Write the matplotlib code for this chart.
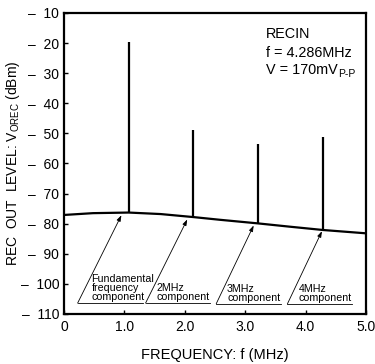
import matplotlib
matplotlib.use("Agg")
import matplotlib.pyplot as plt

plt.rcParams['font.family'] = ['Liberation Sans', 'DejaVu Sans']
plt.rcParams['mathtext.fontset'] = 'custom'
plt.rcParams['mathtext.rm'] = 'Liberation Sans'

# noise floor (MHz, dBm)
floor_f = [0.0, 0.48, 1.07, 1.6, 2.14, 2.58, 3.21, 3.74, 4.29, 5.0]
floor_v = [-77.1, -76.5, -76.3, -76.8, -77.8, -78.7, -79.9, -81.0, -82.1, -83.2]

# spectral lines: fundamental and harmonics
peak_f = [1.0715, 2.143, 3.214, 4.286]
peak_v = [-19.7, -48.9, -53.5, -51.1]
peak_base = [-76.3, -77.8, -79.9, -82.1]

# labels with arrow start, arrow tip and end of the underline
labels = ["Fundamental\nfrequency\ncomponent", "2MHz\ncomponent", "3MHz\ncomponent", "4MHz\ncomponent"]
label_start = [(0.225, -106.4), (1.35, -106.4), (2.52, -106.6), (3.70, -106.6)]
label_tip = [(0.95, -77.2), (2.04, -78.6), (3.14, -80.6), (4.27, -82.5)]
label_end = [1.31, 2.42, 3.60, 4.76]
label_dx = [0.23, 0.18, 0.18, 0.18]

yticks = list(range(-10, -111, -10))
ytick_labels = ["\u2013  %d" % abs(v) for v in yticks]
xticks = [0, 1, 2, 3, 4, 5]
xtick_labels = ["0", "1.0", "2.0", "3.0", "4.0", "5.0"]

fig = plt.figure(figsize=(3.75, 3.64), dpi=100)
ax = fig.add_axes([0.1707, 0.1374, 0.8053, 0.8269])

ax.plot(floor_f, floor_v, color='black', lw=1.6, solid_capstyle='butt')
ax.vlines(peak_f, peak_base, peak_v, color='black', lw=1.6)

for txt, s, t, e, dx in zip(labels, label_start, label_tip, label_end, label_dx):
    ax.annotate("", xy=t, xytext=s,
                arrowprops=dict(arrowstyle='-|>,head_length=0.35,head_width=0.12',
                                color='black', lw=0.6, shrinkA=0, shrinkB=0))
    ax.plot([s[0], e], [s[1], s[1]], color='black', lw=0.6)
    ax.text(s[0] + dx, s[1] + 0.4, txt, fontsize=7.7, ha='left', va='bottom',
            linespacing=0.88)

ax.set_xlim(0, 5)
ax.set_ylim(-110, -10)
ax.set_xticks(xticks)
ax.set_xticklabels(xtick_labels)
ax.set_yticks(yticks)
ax.set_yticklabels(ytick_labels)
ax.tick_params(direction='in', length=3, width=1, labelsize=10)
ax.tick_params(axis='x', pad=4.5)
ax.tick_params(axis='y', pad=3.5)
for sp in ax.spines.values():
    sp.set_linewidth(1.6)

ax.set_xlabel("FREQUENCY: f (MHz)", fontsize=10.5, labelpad=10)
ax.set_ylabel(r"REC  OUT  LEVEL: V$\mathrm{_{OREC}}$ (dBm)", fontsize=10)
ax.yaxis.set_label_coords(-0.138, 0.5)

ax.text(0.669, 0.918, "RECIN", transform=ax.transAxes, fontsize=10.4, va='baseline')
ax.text(0.669, 0.854, "f = 4.286MHz", transform=ax.transAxes, fontsize=10.4, va='baseline')
t = ax.text(0.669, 0.796, "V = 170mV", transform=ax.transAxes, fontsize=10.4, va='baseline')
ax.annotate("P-P", xy=(1, 0), xycoords=t, xytext=(0.3, 0), textcoords='offset points',
            fontsize=7.5, va='baseline')

fig.savefig("out.png", dpi=100)
